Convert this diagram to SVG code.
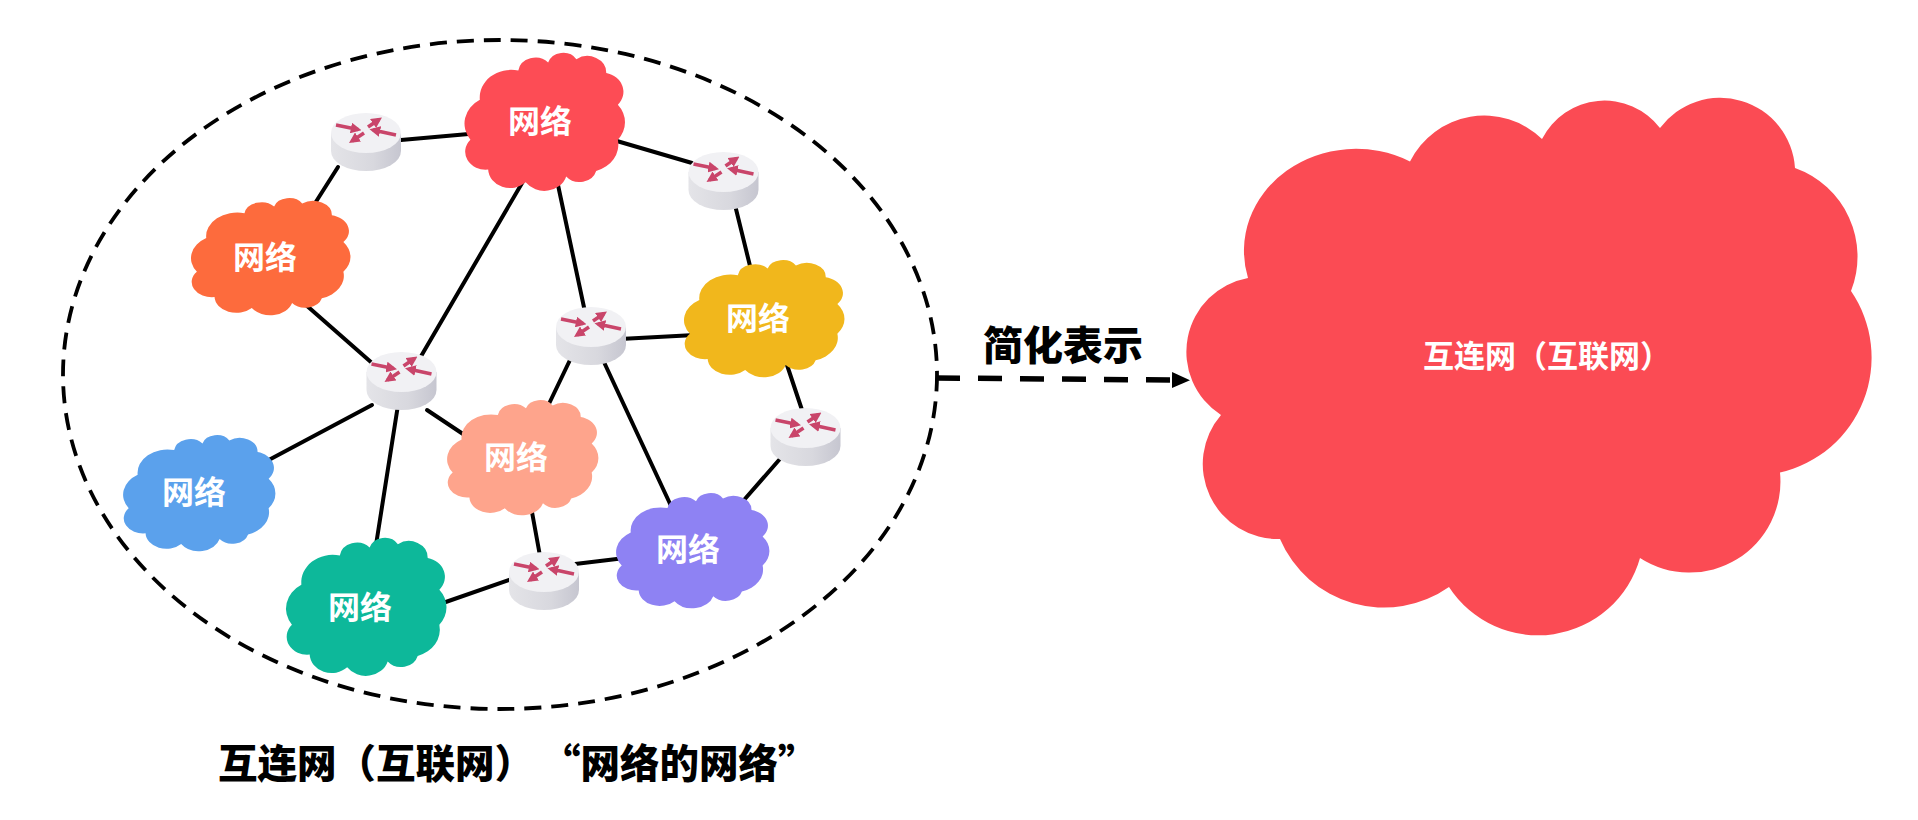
<svg xmlns="http://www.w3.org/2000/svg" width="1918" height="820" viewBox="0 0 1918 820">
<style>
.lbl{font-family:"Noto Sans CJK SC","Noto Sans",sans-serif;font-weight:700;fill:#fff;text-anchor:middle;font-size:32px}
.cap{font-family:"Noto Sans CJK SC","Noto Sans",sans-serif;font-weight:900;fill:#000;font-size:39.5px;text-spacing-trim:space-all}
.link{stroke:#000;stroke-width:4;fill:none;stroke-linecap:round}
.ra{stroke:#c9456a;stroke-width:3.6;fill:none;marker-end:url(#ah)}
</style>
<defs>
<marker id="ah" markerWidth="3" markerHeight="3" refX="2" refY="1.5" orient="auto"><path d="M0 0L3 1.5L0 3Z" fill="#c9456a"/></marker>
<marker id="bh" markerUnits="userSpaceOnUse" markerWidth="20" markerHeight="20" refX="0" refY="10" orient="auto"><path d="M0 2L18 10L0 18Z" fill="#000"/></marker>
<linearGradient id="body" x1="0" y1="0" x2="1" y2="0"><stop offset="0" stop-color="#e4e4e8"/><stop offset="0.6" stop-color="#d8d8de"/><stop offset="1" stop-color="#c6c6d0"/></linearGradient>
<path id="c" d="M8.5 32.5A20 20 0 0 1 33 11.3A11 11 0 0 1 52 5.5A10 10 0 0 1 70 3A12 12 0 0 1 89 13A14 14 0 0 1 96.4 36A20 20 0 0 1 96.4 61.4A20 20 0 0 1 82.6 84A11 11 0 0 1 63.5 88A14.5 14.5 0 0 1 37.7 92.3A14 14 0 0 1 13.8 83A13 13 0 0 1 2.5 61.4A20 20 0 0 1 8.5 32.5Z"/>
<g id="r">
<path d="M-35 20V38A35 20 0 0 0 35 38V20Z" fill="url(#body)"/>
<ellipse cx="0" cy="20" rx="35" ry="20" fill="#f1f1f4"/>
<path class="ra" d="M-30 12L-8 16.5"/>
<path class="ra" d="M2 14L13 6.5"/>
<path class="ra" d="M30 22L7 17"/>
<path class="ra" d="M-2 20L-14 28"/>
</g>
</defs>
<rect width="1918" height="820" fill="#fff"/>
<g id="connectors">
<ellipse cx="500" cy="374.5" rx="437" ry="334.5" fill="none" stroke="#000" stroke-width="3.8" stroke-dasharray="17 10"/>
<path class="link" d="M401 140L480 133"/>
<path class="link" d="M338 167L312 208"/>
<path class="link" d="M610 139L692 163"/>
<path class="link" d="M735 205L751 270"/>
<path class="link" d="M558 185L585 312"/>
<path class="link" d="M525 178L420 358"/>
<path class="link" d="M298 298L372 363"/>
<path class="link" d="M620 339L695 335"/>
<path class="link" d="M570 360L546 410"/>
<path class="link" d="M603 360L672 508"/>
<path class="link" d="M786 362L802 410"/>
<path class="link" d="M779 460L744 500"/>
<path class="link" d="M372 405L265 462"/>
<path class="link" d="M398 405L376 545"/>
<path class="link" d="M427 410L466 436"/>
<path class="link" d="M532 512L540 556"/>
<path class="link" d="M575 564L625 558"/>
<path class="link" d="M512 579L440 604"/>
<path d="M936 378L1172 380" fill="none" stroke="#000" stroke-width="5.5" stroke-dasharray="24 18" marker-end="url(#bh)"/>
</g>
<g id="net-red"><use href="#c" transform="translate(466.5 55) scale(1.57 1.38)" fill="#fd4c55"/><text class="lbl" x="540" y="133">网络</text></g>
<g id="net-orange"><use href="#c" transform="translate(193 200) scale(1.56 1.17)" fill="#fd6b3d"/><text class="lbl" x="265" y="269">网络</text></g>
<g id="net-yellow"><use href="#c" transform="translate(686 262) scale(1.57 1.17)" fill="#f1b71c"/><text class="lbl" x="758" y="330">网络</text></g>
<g id="net-blue"><use href="#c" transform="translate(125 437) scale(1.49 1.16)" fill="#5ba1ec"/><text class="lbl" x="194" y="504">网络</text></g>
<g id="net-salmon"><use href="#c" transform="translate(449 402) scale(1.48 1.15)" fill="#fea48c"/><text class="lbl" x="516" y="469">网络</text></g>
<g id="net-green"><use href="#c" transform="translate(288 540) scale(1.57 1.38)" fill="#0db89a"/><text class="lbl" x="360" y="619">网络</text></g>
<g id="net-purple"><use href="#c" transform="translate(618 495) scale(1.5 1.15)" fill="#8e82f3"/><text class="lbl" x="688" y="561">网络</text></g>
<g id="router-1"><use href="#r" x="366" y="113"/></g>
<g id="router-2"><use href="#r" x="723.5" y="152"/></g>
<g id="router-3"><use href="#r" x="591" y="307"/></g>
<g id="router-4"><use href="#r" x="401.5" y="352"/></g>
<g id="router-5"><use href="#r" x="805.5" y="408"/></g>
<g id="router-6"><use href="#r" x="544" y="552"/></g>
<g id="internet-cloud">
<path d="M1248 278A112 102 0 0 1 1410 161.5A83 83 0 0 1 1542 139A70 70 0 0 1 1660 128A75 75 0 0 1 1795 168A94 94 0 0 1 1851 291A118 118 0 0 1 1780 472.6A91 91 0 0 1 1640 558A106 106 0 0 1 1449 587A113 113 0 0 1 1280 539A75 75 0 0 1 1221 415A75 75 0 0 1 1248 278Z" fill="#fb4b54"/>
<text class="lbl" x="1547" y="367" style="font-size:31px">互连网（互联网）</text>
</g>
<text id="simplify-label" class="cap" x="1063" y="360" text-anchor="middle" style="font-size:40px">简化表示</text>
<text id="caption" class="cap" x="218" y="778">互连网（互联网）<tspan dx="7">“网络的网络”</tspan></text>
</svg>
